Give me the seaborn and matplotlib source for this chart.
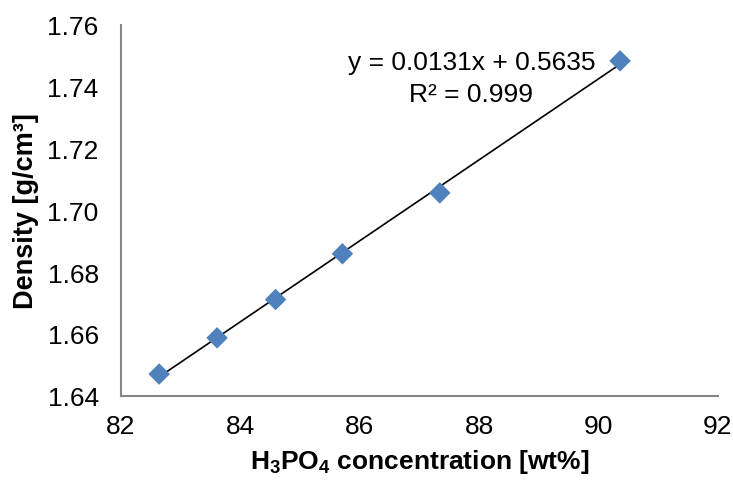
import numpy as np
import pandas as pd
import matplotlib
matplotlib.use("Agg")
import matplotlib.pyplot as plt
import seaborn as sns

# Measured phosphoric acid solutions
concentration = [82.64, 83.61, 84.59, 85.71, 87.34, 90.36]   # wt%
density = [1.647, 1.6587, 1.6711, 1.6859, 1.7056, 1.7483]    # g/cm3

# Linear fit reported on the chart
slope = 0.0131
intercept = 0.5635
r_squared = 0.999

x_ticks = [82, 84, 86, 88, 90, 92]
y_ticks = [1.64, 1.66, 1.68, 1.70, 1.72, 1.74, 1.76]

sns.set_theme(style="white")
plt.rcParams["font.family"] = ["Liberation Sans", "DejaVu Sans"]
plt.rcParams["mathtext.fontset"] = "custom"
plt.rcParams["mathtext.rm"] = "Liberation Sans"
plt.rcParams["mathtext.bf"] = "Liberation Sans:bold"
plt.rcParams["text.color"] = "black"
plt.rcParams["axes.labelcolor"] = "black"

df = pd.DataFrame({"conc": concentration, "dens": density})
fit_x = np.array([concentration[0], concentration[-1]])
fit = pd.DataFrame({"conc": fit_x, "dens": slope * fit_x + intercept})

fig = plt.figure(figsize=(7.33, 4.81), dpi=100)
ax = fig.add_axes([0.165, 0.1753, 0.8145, 0.7713])

sns.lineplot(data=fit, x="conc", y="dens", ax=ax, color="black", linewidth=1.2, zorder=2)
sns.scatterplot(data=df, x="conc", y="dens", ax=ax, marker="D", s=120,
                color="#4F81BD", edgecolor="none", zorder=3)

ax.set_xlim(82, 92)
ax.set_ylim(1.64, 1.76)
ax.set_xticks(x_ticks)
ax.set_yticks(y_ticks)
ax.set_xticklabels([f"{v}" for v in x_ticks])
ax.set_yticklabels([f"{v:.2f}" for v in y_ticks])

for side in ("top", "right"):
    ax.spines[side].set_visible(False)
for side in ("left", "bottom"):
    ax.spines[side].set_color("#868686")
    ax.spines[side].set_linewidth(1.5)

ax.tick_params(axis="both", direction="in", length=5, width=1.2, color="#868686",
               labelsize=19, labelcolor="black")
ax.tick_params(axis="x", pad=13)
ax.tick_params(axis="y", pad=16)

ax.set_xlabel(r"$\mathbf{H_3PO_4}$ concentration [wt%]", fontsize=19,
              fontweight="bold", labelpad=7)
ax.set_ylabel("Density [g/cm³]", fontsize=19.5, fontweight="bold", labelpad=6)

ax.text(87.87, 1.7478, f"y = {slope}x + {intercept}", ha="center", va="center",
        fontsize=19, color="black")
ax.text(87.87, 1.7375, f"R² = {r_squared}", ha="center", va="center",
        fontsize=19, color="black")

fig.savefig("out.png", dpi=100)
